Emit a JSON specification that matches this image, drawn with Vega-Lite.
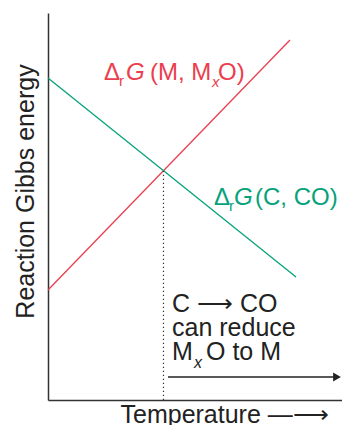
{
  "$schema": "https://vega.github.io/schema/vega-lite/v6.json",
  "width": 294,
  "height": 387,
  "autosize": {"type": "none"},
  "padding": {"left": 48, "top": 13, "right": 0, "bottom": 25},
  "config": {
    "view": {"stroke": null},
    "font": "Liberation Sans",
    "text": {"font": "Liberation Sans", "align": "left", "baseline": "alphabetic"}
  },
  "datasets": {
    "lines": [
      {"series": "M", "x": 0, "y": 110},
      {"series": "M", "x": 242, "y": 360},
      {"series": "C", "x": 0, "y": 322},
      {"series": "C", "x": 248, "y": 123}
    ],
    "dotted": [{"x": 115.5, "y": 0}, {"x": 115.5, "y": 229}],
    "arrow": [{"x": 120, "x2": 289, "y": 23}],
    "head": [{"x": 289, "y": 23}],
    "labels": [
      {"series": "M", "kind": "normal", "text": "Δ", "x": 56, "y": 320},
      {"series": "M", "kind": "sub", "text": "r", "x": 71, "y": 314},
      {"series": "M", "kind": "italic", "text": "G", "x": 78, "y": 320},
      {"series": "M", "kind": "normal", "text": "(M, M", "x": 102, "y": 320},
      {"series": "M", "kind": "subitalic", "text": "x", "x": 164, "y": 313},
      {"series": "M", "kind": "normal", "text": "O)", "x": 170, "y": 320},
      {"series": "C", "kind": "normal", "text": "Δ", "x": 166, "y": 195},
      {"series": "C", "kind": "sub", "text": "r", "x": 181, "y": 189},
      {"series": "C", "kind": "italic", "text": "G", "x": 186, "y": 195},
      {"series": "C", "kind": "normal", "text": "(C, CO)", "x": 207, "y": 195}
    ],
    "note": [
      {"kind": "normal", "text": "C ⟶ CO", "x": 124, "y": 88},
      {"kind": "normal", "text": "can reduce", "x": 124, "y": 64},
      {"kind": "normal", "text": "M", "x": 124, "y": 40},
      {"kind": "subitalic", "text": "x", "x": 146, "y": 32},
      {"kind": "normal", "text": "O to M", "x": 158, "y": 40}
    ]
  },
  "layer": [
    {
      "data": {"name": "lines"},
      "mark": {"type": "line", "strokeWidth": 1.3},
      "encoding": {
        "x": {"field": "x", "type": "quantitative", "scale": {"domain": [0, 294], "nice": false, "zero": false},
          "axis": {"title": "Temperature —⟶", "domain": true, "domainColor": "#333", "domainWidth": 1.5, "ticks": false, "labels": false, "grid": false,
            "titleFontSize": 25, "titleFontWeight": "normal", "titleColor": "#222", "titleFont": "Liberation Sans",
            "titleAlign": "left", "titleBaseline": "alphabetic", "titleX": 72, "titleY": 22}},
        "y": {"field": "y", "type": "quantitative", "scale": {"domain": [0, 387], "nice": false, "zero": false},
          "axis": {"title": "Reaction Gibbs energy", "domain": true, "domainColor": "#333", "domainWidth": 1.5, "ticks": false, "labels": false, "grid": false,
            "titleFontSize": 25, "titleFontWeight": "normal", "titleColor": "#222", "titleFont": "Liberation Sans",
            "titleAngle": -90, "titleAlign": "center", "titleBaseline": "alphabetic", "titleX": -15, "titleY": 178}},
        "color": {"field": "series", "type": "nominal", "scale": {"domain": ["M", "C", "note"], "range": ["#eb3e4e", "#06a27b", "#222222"]}, "legend": null},
        "detail": {"field": "series"}
      }
    },
    {
      "data": {"name": "dotted"},
      "mark": {"type": "line", "strokeDash": [1.2, 2.8], "strokeWidth": 1.2, "color": "#333"},
      "encoding": {"x": {"field": "x", "type": "quantitative"}, "y": {"field": "y", "type": "quantitative"}}
    },
    {
      "data": {"name": "arrow"},
      "mark": {"type": "rule", "strokeWidth": 1.3, "color": "#222"},
      "encoding": {"x": {"field": "x", "type": "quantitative"}, "x2": {"field": "x2"}, "y": {"field": "y", "type": "quantitative"}}
    },
    {
      "data": {"name": "head"},
      "mark": {"type": "point", "shape": "triangle-right", "filled": true, "size": 80, "color": "#222", "opacity": 1},
      "encoding": {"x": {"field": "x", "type": "quantitative"}, "y": {"field": "y", "type": "quantitative"}}
    },
    {
      "data": {"name": "labels"},
      "transform": [{"filter": "datum.kind === 'normal'"}],
      "mark": {"type": "text", "fontSize": 24},
      "encoding": {"x": {"field": "x", "type": "quantitative"}, "y": {"field": "y", "type": "quantitative"}, "text": {"field": "text"}, "color": {"field": "series", "type": "nominal"}}
    },
    {
      "data": {"name": "labels"},
      "transform": [{"filter": "datum.kind === 'italic'"}],
      "mark": {"type": "text", "fontSize": 24, "fontStyle": "italic"},
      "encoding": {"x": {"field": "x", "type": "quantitative"}, "y": {"field": "y", "type": "quantitative"}, "text": {"field": "text"}, "color": {"field": "series", "type": "nominal"}}
    },
    {
      "data": {"name": "labels"},
      "transform": [{"filter": "datum.kind === 'sub'"}],
      "mark": {"type": "text", "fontSize": 15},
      "encoding": {"x": {"field": "x", "type": "quantitative"}, "y": {"field": "y", "type": "quantitative"}, "text": {"field": "text"}, "color": {"field": "series", "type": "nominal"}}
    },
    {
      "data": {"name": "labels"},
      "transform": [{"filter": "datum.kind === 'subitalic'"}],
      "mark": {"type": "text", "fontSize": 15, "fontStyle": "italic"},
      "encoding": {"x": {"field": "x", "type": "quantitative"}, "y": {"field": "y", "type": "quantitative"}, "text": {"field": "text"}, "color": {"field": "series", "type": "nominal"}}
    },
    {
      "data": {"name": "note"},
      "transform": [{"filter": "datum.kind === 'normal'"}],
      "mark": {"type": "text", "fontSize": 25, "color": "#222"},
      "encoding": {"x": {"field": "x", "type": "quantitative"}, "y": {"field": "y", "type": "quantitative"}, "text": {"field": "text"}}
    },
    {
      "data": {"name": "note"},
      "transform": [{"filter": "datum.kind === 'subitalic'"}],
      "mark": {"type": "text", "fontSize": 16, "fontStyle": "italic", "color": "#222"},
      "encoding": {"x": {"field": "x", "type": "quantitative"}, "y": {"field": "y", "type": "quantitative"}, "text": {"field": "text"}}
    }
  ]
}
